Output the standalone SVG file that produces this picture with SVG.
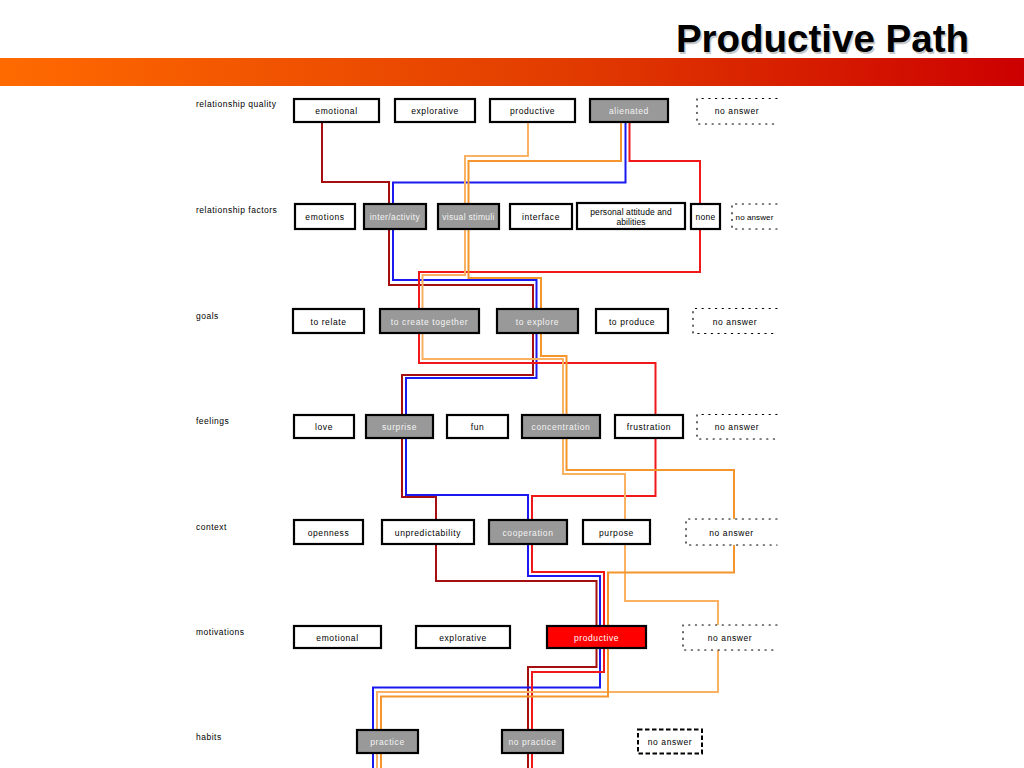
<svg xmlns="http://www.w3.org/2000/svg" width="1024" height="768" viewBox="0 0 1024 768">
<defs>
<linearGradient id="band" x1="0" y1="0" x2="1" y2="0">
<stop offset="0" stop-color="#FF6A00"/>
<stop offset="0.55" stop-color="#E23C00"/>
<stop offset="1" stop-color="#CC0000"/>
</linearGradient>
</defs>
<style>
.lbl{font-family:"Liberation Sans",Arial,sans-serif;font-size:8.5px;letter-spacing:0.5px;fill:#000}
.t{font-family:"Liberation Sans",Arial,sans-serif;font-size:8.5px;letter-spacing:0.6px;text-anchor:middle;fill:#000}
.tw{font-family:"Liberation Sans",Arial,sans-serif;font-size:8.5px;letter-spacing:0.6px;text-anchor:middle;fill:#F4F4F4}
.b{fill:#fff;stroke:#000;stroke-width:2.2}
.g{fill:#999999;stroke:#000;stroke-width:2.2}
.r{fill:#FF0000;stroke:#000;stroke-width:2.2}
.dot{fill:none;stroke:#000;stroke-width:1.2;stroke-dasharray:1.2 5.5;stroke-linecap:round}
.bg{fill:#fff;stroke:none}
.dash{fill:#fff;stroke:#000;stroke-width:2;stroke-dasharray:4.5 2.5}
.c{fill:none;stroke-width:2;stroke-linejoin:miter}
.dr{stroke:#A50F0F}
.bl{stroke:#1A1AF0}
.rd{stroke:#F01818}
.lo{stroke:#FAB262}
.do{stroke:#F5962C}
</style>
<rect x="0" y="0" width="1024" height="768" fill="#fff"/>
<rect x="0" y="58" width="1024" height="28" fill="url(#band)"/>
<text x="970.5" y="53.5" text-anchor="end" font-family="Liberation Sans, Arial, sans-serif" font-weight="bold" font-size="38.5" fill="#888" opacity="0.45">Productive Path</text>
<text x="969" y="52" text-anchor="end" font-family="Liberation Sans, Arial, sans-serif" font-weight="bold" font-size="38.5" fill="#000">Productive Path</text>

<g id="row-labels">
<text class="lbl" x="196" y="107">relationship quality</text>
<text class="lbl" x="196" y="213">relationship factors</text>
<text class="lbl" x="196" y="319">goals</text>
<text class="lbl" x="196" y="424">feelings</text>
<text class="lbl" x="196" y="530">context</text>
<text class="lbl" x="196" y="635">motivations</text>
<text class="lbl" x="196" y="740">habits</text>
</g>

<g id="connectors">
<path class="c dr" d="M322,122 V182 H389 V285 H533 V375 H402 V497 H436 V581 H596.5 V667 H528 V768"/>
<path class="c bl" d="M625.5,122 V182.5 H393 V280 H536.5 V378 H406 V495 H528 V576 H600 V687.5 H373 V768"/>
<path class="c rd" d="M629.5,122 V161 H700 V272 H419 V363 H655.5 V496 H532 V572 H604 V672 H532 V768"/>
<path class="c lo" d="M528,122 V156 H465 V275 H422.5 V359 H563 V474 H625 V601 H718 V692 H377 V768"/>
<path class="c do" d="M621,122 V161 H468.5 V278 H541 V356 H566.5 V470 H734 V572.5 H608 V696.5 H381 V768"/>
</g>

<g id="rq-emotional"><rect class="b" x="294" y="99" width="85" height="23"/><text class="t" x="336.5" y="114">emotional</text></g>
<g id="rq-explorative"><rect class="b" x="395" y="99" width="80" height="23"/><text class="t" x="435" y="114">explorative</text></g>
<g id="rq-productive"><rect class="b" x="490" y="99" width="85" height="23"/><text class="t" x="532.5" y="114">productive</text></g>
<g id="rq-alienated"><rect class="g" x="590" y="99" width="78" height="23"/><text class="tw" x="629" y="114">alienated</text></g>
<g id="rq-noanswer"><rect class="bg" x="697" y="98.5" width="80" height="25.5"/><path class="dot" d="M777,98.5 H697 V124 H777"/><text class="t" x="737" y="114">no answer</text></g>

<g id="rf-emotions"><rect class="b" x="295" y="204" width="60" height="25"/><text class="t" x="325" y="219.5">emotions</text></g>
<g id="rf-interactivity"><rect class="g" x="364" y="204" width="62" height="25"/><text class="tw" x="395" y="219.5" style="letter-spacing:0.4px">inter/activity</text></g>
<g id="rf-visualstimuli"><rect class="g" x="438" y="204" width="61" height="25"/><text class="tw" x="468.5" y="219.5" style="letter-spacing:0.3px">visual stimuli</text></g>
<g id="rf-interface"><rect class="b" x="510" y="204" width="62" height="25"/><text class="t" x="541" y="219.5">interface</text></g>
<g id="rf-personal"><rect class="b" x="577" y="203" width="108" height="26"/><text class="t" x="631" y="215" style="letter-spacing:0.1px">personal attitude and</text><text class="t" x="631" y="225" style="letter-spacing:0.1px">abilities</text></g>
<g id="rf-none"><rect class="b" x="691" y="204" width="29" height="25"/><text class="t" x="705.5" y="219.5" style="letter-spacing:0.3px">none</text></g>
<g id="rf-noanswer"><rect class="bg" x="732" y="204" width="45" height="25"/><path class="dot" d="M777,204 H732 V229 H777"/><text class="t" x="754.5" y="219.5" style="letter-spacing:0.1px;font-size:8px">no answer</text></g>

<g id="g-torelate"><rect class="b" x="293" y="309" width="71" height="24"/><text class="t" x="328.5" y="324.5">to relate</text></g>
<g id="g-tocreate"><rect class="g" x="380" y="309" width="99" height="24"/><text class="tw" x="429.5" y="324.5">to create together</text></g>
<g id="g-toexplore"><rect class="g" x="497" y="309" width="81" height="24"/><text class="tw" x="537.5" y="324.5">to explore</text></g>
<g id="g-toproduce"><rect class="b" x="596" y="309" width="72" height="24"/><text class="t" x="632" y="324.5">to produce</text></g>
<g id="g-noanswer"><rect class="bg" x="693" y="308.5" width="84" height="25"/><path class="dot" d="M777,308.5 H693 V333.5 H777"/><text class="t" x="735" y="324.5">no answer</text></g>

<g id="f-love"><rect class="b" x="294" y="415" width="60" height="23"/><text class="t" x="324" y="430">love</text></g>
<g id="f-surprise"><rect class="g" x="366" y="415" width="67" height="23"/><text class="tw" x="399.5" y="430">surprise</text></g>
<g id="f-fun"><rect class="b" x="447" y="415" width="61" height="23"/><text class="t" x="477.5" y="430">fun</text></g>
<g id="f-concentration"><rect class="g" x="522" y="415" width="78" height="23"/><text class="tw" x="561" y="430">concentration</text></g>
<g id="f-frustration"><rect class="b" x="615" y="415" width="68" height="23"/><text class="t" x="649" y="430">frustration</text></g>
<g id="f-noanswer"><rect class="bg" x="697" y="414.5" width="80" height="24.5"/><path class="dot" d="M777,414.5 H697 V439 H777"/><text class="t" x="737" y="430">no answer</text></g>

<g id="c-openness"><rect class="b" x="294" y="520" width="69" height="24"/><text class="t" x="328.5" y="535.5">openness</text></g>
<g id="c-unpredictability"><rect class="b" x="382" y="520" width="92" height="24"/><text class="t" x="428" y="535.5">unpredictability</text></g>
<g id="c-cooperation"><rect class="g" x="489" y="520" width="78" height="24"/><text class="tw" x="528" y="535.5">cooperation</text></g>
<g id="c-purpose"><rect class="b" x="583" y="520" width="67" height="24"/><text class="t" x="616.5" y="535.5">purpose</text></g>
<g id="c-noanswer"><rect class="bg" x="686" y="519" width="91" height="26"/><path class="dot" d="M777,519 H686 V545 H777"/><text class="t" x="731.5" y="535.5">no answer</text></g>

<g id="m-emotional"><rect class="b" x="294" y="626" width="87" height="22"/><text class="t" x="337.5" y="640.5">emotional</text></g>
<g id="m-explorative"><rect class="b" x="416" y="626" width="94" height="22"/><text class="t" x="463" y="640.5">explorative</text></g>
<g id="m-productive"><rect class="r" x="547" y="626" width="99" height="22"/><text class="tw" x="596.5" y="640.5" style="fill:#fff">productive</text></g>
<g id="m-noanswer"><rect class="bg" x="683" y="625" width="94" height="25"/><path class="dot" d="M777,625 H683 V650 H777"/><text class="t" x="730" y="640.5">no answer</text></g>

<g id="h-practice"><rect class="g" x="357" y="730" width="61" height="23"/><text class="tw" x="387.5" y="745">practice</text></g>
<g id="h-nopractice"><rect class="g" x="502" y="730" width="61" height="23"/><text class="tw" x="532.5" y="745">no practice</text></g>
<g id="h-noanswer"><rect class="dash" x="638" y="729.5" width="64" height="24"/><text class="t" x="670" y="745">no answer</text></g>
</svg>
